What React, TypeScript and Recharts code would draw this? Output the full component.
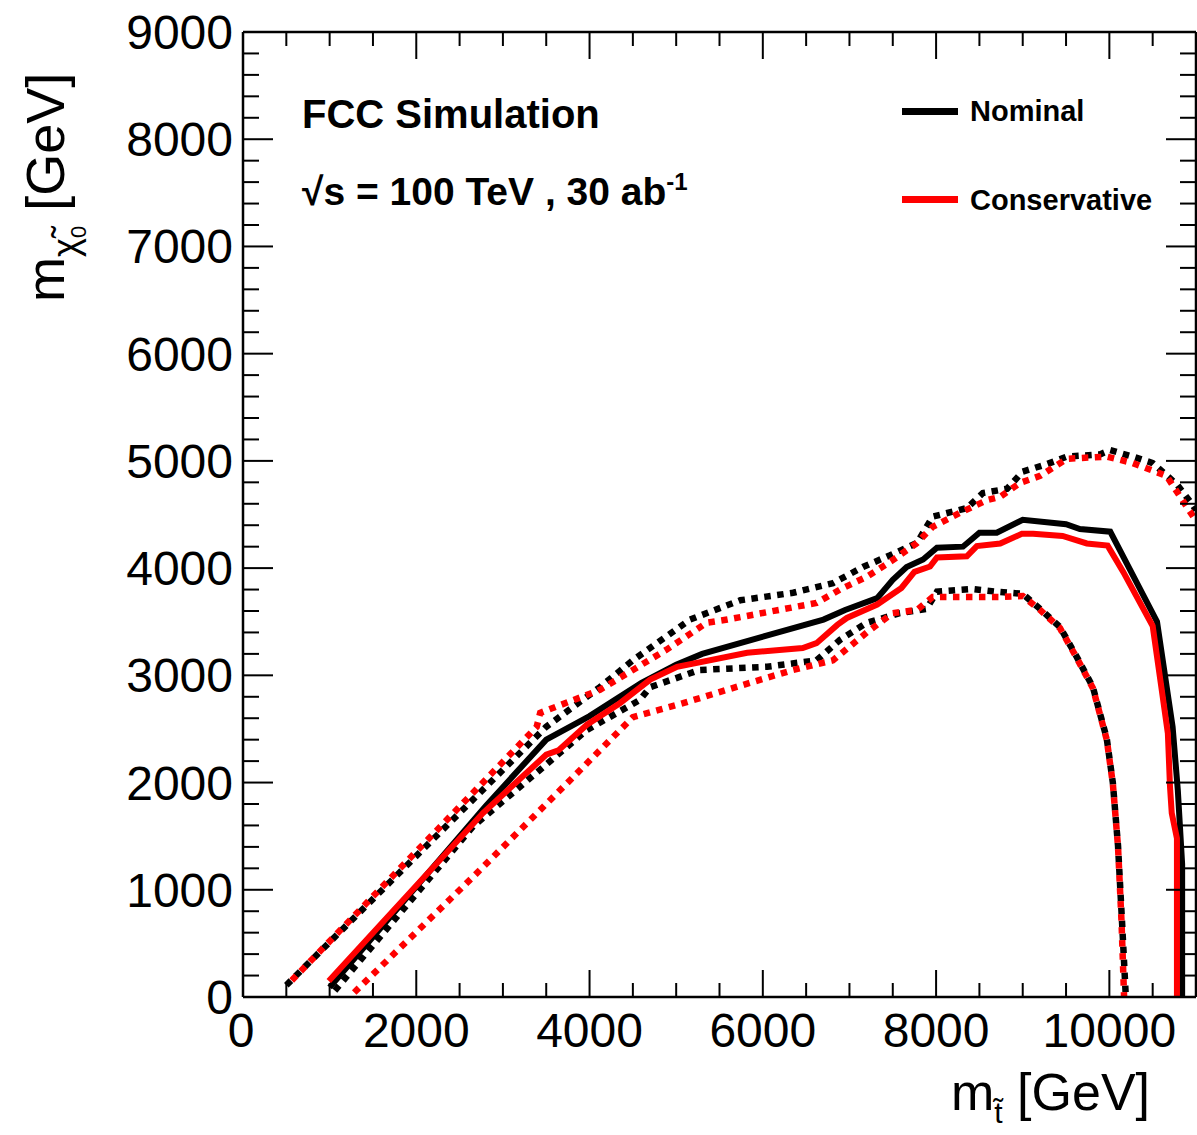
import { LineChart, Line, XAxis, YAxis } from "recharts";

type Pt = { x: number; y: number };
const pts = (arr: number[][]): Pt[] => arr.map(([x, y]) => ({ x, y }));

// central limit contours
const nominal = pts([
  [1000, 90], [2800, 1780], [3500, 2400], [4000, 2620], [4600, 2930], [5000, 3100],
  [5300, 3200], [6700, 3520], [6950, 3610], [7320, 3720], [7500, 3890],
  [7660, 4010], [7850, 4080], [8010, 4190], [8310, 4200], [8500, 4330],
  [8700, 4330], [9000, 4450], [9500, 4410], [9660, 4365], [10010, 4340],
  [10550, 3500], [10730, 2520], [10790, 1930], [10840, 1240], [10840, 0],
]);

const conservative = pts([
  [990, 150], [2770, 1716], [3500, 2260], [3640, 2300], [3970, 2540],
  [4350, 2740], [4700, 2960], [5010, 3080], [5820, 3210], [6460, 3255],
  [6620, 3300], [6860, 3470], [6970, 3535], [7320, 3660], [7600, 3815],
  [7750, 3965], [7930, 4015], [8010, 4100], [8355, 4110], [8470, 4205],
  [8740, 4230], [8990, 4320], [9120, 4320], [9460, 4300], [9740, 4230],
  [9980, 4210], [10160, 3965], [10500, 3460], [10600, 2890], [10675, 2460],
  [10700, 1960], [10720, 1715], [10780, 1480], [10780, 0],
]);

// +/- 1 sigma bands (dotted)
const nominalUp = pts([
  [500, 110], [3500, 2520], [4120, 2890], [4500, 3140], [5160, 3520],
  [5740, 3700], [6350, 3770], [6810, 3860], [7155, 4010], [7470, 4120],
  [7780, 4235], [7960, 4480], [8355, 4560], [8540, 4700], [8820, 4740],
  [9000, 4900], [9280, 4970], [9510, 5040], [9890, 5060], [10010, 5100],
  [10270, 5040], [10500, 4980], [10780, 4780], [10960, 4590], [11000, 4540],
]);

const conservativeUp = pts([
  [510, 110], [3390, 2520], [3430, 2650], [4120, 2865], [4500, 3050],
  [4890, 3240], [5350, 3490], [5590, 3520], [6620, 3675], [6890, 3800],
  [7200, 3920], [7500, 4075], [7780, 4235], [7960, 4385], [8275, 4515],
  [8590, 4635], [8740, 4665], [8970, 4795], [9200, 4860], [9510, 5020],
  [9970, 5040], [10270, 4980], [10660, 4860], [10960, 4490], [11000, 4440],
]);

const nominalDown = pts([
  [1060, 60], [2655, 1590], [3970, 2490], [4580, 2770], [4700, 2890],
  [5270, 3050], [6050, 3080], [6620, 3140], [6890, 3330], [7200, 3490],
  [7580, 3580], [7890, 3620], [8010, 3780], [8420, 3805], [8700, 3780],
  [9000, 3760], [9200, 3620], [9430, 3450], [9625, 3170], [9810, 2890],
  [9970, 2410], [10040, 2000], [10100, 1410], [10145, 720], [10190, 0],
]);

const conservativeDown = pts([
  [1230, 0], [2655, 1120], [3810, 2050], [4500, 2610], [5080, 2740],
  [5850, 2930], [6350, 3050], [6810, 3140], [7200, 3400], [7500, 3580],
  [7780, 3610], [7960, 3730], [8360, 3730], [8740, 3730], [9000, 3740],
  [9200, 3610], [9430, 3440], [9625, 3160], [9810, 2880], [9970, 2400],
  [10040, 1990], [10100, 1400], [10140, 710], [10170, 0],
]);

const xTicks = Array.from({ length: 23 }, (_, i) => i * 500);
const yTicks = Array.from({ length: 46 }, (_, i) => i * 200);

const FONT = "'Liberation Sans', Arial, Helvetica, sans-serif";

const BottomTick = (p: any) => {
  const v = p.payload.value;
  const major = v % 2000 === 0;
  return (
    <g>
      <line x1={p.x} x2={p.x} y1={p.y} y2={p.y - (major ? 27 : 14)} stroke="#000" strokeWidth={2} />
      {major && (
        <text x={v === 0 ? p.x - 2 : p.x} y={p.y + 50} textAnchor="middle" fontSize={48} fontFamily={FONT} fill="#000">
          {v}
        </text>
      )}
    </g>
  );
};

const TopTick = (p: any) => {
  const major = p.payload.value % 2000 === 0;
  return <line x1={p.x} x2={p.x} y1={p.y} y2={p.y + (major ? 27 : 14)} stroke="#000" strokeWidth={2} />;
};

const LeftTick = (p: any) => {
  const v = p.payload.value;
  const major = v % 1000 === 0;
  return (
    <g>
      <line x1={p.x} x2={p.x + (major ? 30 : 16)} y1={p.y} y2={p.y} stroke="#000" strokeWidth={2} />
      {major && (
        <text x={p.x - 10} y={p.y + 17} textAnchor="end" fontSize={48} fontFamily={FONT} fill="#000">
          {v}
        </text>
      )}
    </g>
  );
};

const RightTick = (p: any) => {
  const major = p.payload.value % 1000 === 0;
  return <line x1={p.x} x2={p.x - (major ? 30 : 16)} y1={p.y} y2={p.y} stroke="#000" strokeWidth={2} />;
};

const dotted = { strokeWidth: 6.5, strokeDasharray: "6.5 6.5" };

export default function App() {
  return (
    <div style={{ position: "absolute", left: 0, top: 0, width: 1197, height: 1135, background: "#fff", fontFamily: FONT, overflow: "hidden" }}>
      <LineChart width={1197} height={1135} margin={{ top: 0, right: 0, bottom: 0, left: 0 }}>
        <XAxis xAxisId="b" type="number" dataKey="x" domain={[0, 11000]} ticks={xTicks} interval={0}
          height={138} tickSize={0} tickMargin={0} tick={<BottomTick />} axisLine={{ stroke: "#000", strokeWidth: 2.5 }} allowDataOverflow />
        <XAxis xAxisId="t" orientation="top" type="number" dataKey="x" domain={[0, 11000]} ticks={xTicks} interval={0}
          height={32} tickSize={0} tickMargin={0} tick={<TopTick />} axisLine={{ stroke: "#000", strokeWidth: 2.5 }} allowDataOverflow />
        <YAxis yAxisId="l" type="number" domain={[0, 9000]} ticks={yTicks} interval={0}
          width={243} tickSize={0} tickMargin={0} tick={<LeftTick />} axisLine={{ stroke: "#000", strokeWidth: 2.5 }} allowDataOverflow />
        <YAxis yAxisId="r" orientation="right" type="number" domain={[0, 9000]} ticks={yTicks} interval={0}
          width={1} tickSize={0} tickMargin={0} tick={<RightTick />} axisLine={{ stroke: "#000", strokeWidth: 2.5 }} allowDataOverflow />

        <Line xAxisId="b" yAxisId="l" data={nominalUp} dataKey="y" type="linear" stroke="#000" {...dotted} dot={false} activeDot={false} isAnimationActive={false} />
        <Line xAxisId="b" yAxisId="l" data={conservativeUp} dataKey="y" type="linear" stroke="#ff0000" {...dotted} strokeDashoffset={6.5} dot={false} activeDot={false} isAnimationActive={false} />
        <Line xAxisId="b" yAxisId="l" data={nominalDown} dataKey="y" type="linear" stroke="#000" {...dotted} dot={false} activeDot={false} isAnimationActive={false} />
        <Line xAxisId="b" yAxisId="l" data={conservativeDown} dataKey="y" type="linear" stroke="#ff0000" {...dotted} strokeDashoffset={6.5} dot={false} activeDot={false} isAnimationActive={false} />
        <Line xAxisId="b" yAxisId="l" data={nominal} dataKey="y" type="linear" stroke="#000" strokeWidth={6} dot={false} activeDot={false} isAnimationActive={false} />
        <Line xAxisId="b" yAxisId="l" data={conservative} dataKey="y" type="linear" stroke="#ff0000" strokeWidth={6} dot={false} activeDot={false} isAnimationActive={false} />
      </LineChart>

      {/* annotations */}
      <div style={{ position: "absolute", left: 302, top: 94, fontSize: 40, fontWeight: "bold", lineHeight: 1, whiteSpace: "nowrap" }}>
        FCC Simulation
      </div>
      <div style={{ position: "absolute", left: 302, top: 172, fontSize: 39, fontWeight: "bold", lineHeight: 1, whiteSpace: "nowrap" }}>
        √s = 100 TeV , 30 ab<span style={{ position: "relative", top: -15, fontSize: 24 }}>-1</span>
      </div>

      {/* legend */}
      <div style={{ position: "absolute", left: 902, top: 108, width: 56, height: 7, background: "#000" }} />
      <div style={{ position: "absolute", left: 970, top: 97, fontSize: 29, fontWeight: "bold", lineHeight: 1, whiteSpace: "nowrap" }}>
        Nominal
      </div>
      <div style={{ position: "absolute", left: 902, top: 196, width: 56, height: 7, background: "#ff0000" }} />
      <div style={{ position: "absolute", left: 970, top: 186, fontSize: 29, fontWeight: "bold", lineHeight: 1, whiteSpace: "nowrap" }}>
        Conservative
      </div>

      {/* axis titles */}
      <div style={{ position: "absolute", left: 951, top: 1066, fontSize: 52, lineHeight: 1, whiteSpace: "nowrap" }}>
        m<span style={{ position: "relative", top: 13, fontSize: 30, lineHeight: 1 }}>t̃</span> [GeV]
      </div>
      <div style={{ position: "absolute", left: 18, top: 302, fontSize: 54, lineHeight: 1, whiteSpace: "nowrap", transform: "rotate(-90deg)", transformOrigin: "left top" }}>
        m<span style={{ position: "relative", top: 14, fontSize: 36 }}>χ̃<span style={{ position: "relative", top: 8, fontSize: 22 }}>0</span></span> [GeV]
      </div>
    </div>
  );
}
